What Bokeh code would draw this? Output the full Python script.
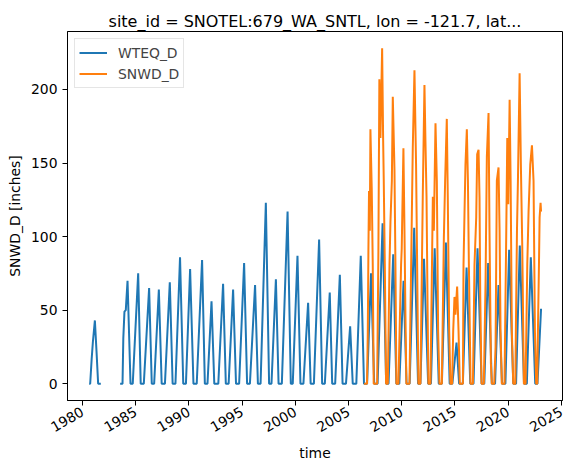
import math
import numpy as np
import pandas as pd
from bokeh.plotting import figure
from bokeh.models import ColumnDataSource, Range1d, FixedTicker, DatetimeTickFormatter
from bokeh.embed import file_html
from bokeh.resources import INLINE

TITLE = "site_id = SNOTEL:679_WA_SNTL, lon = -121.7, lat..."

# Snow water equivalent (WTEQ_D): season turning points, inches.  None = no record.
wteq_dates = [
    "1980-08-15", "1980-09-20", "1980-11-10", "1980-12-20", "1981-02-28", "1981-04-25", "1981-06-20", "1981-09-20",
    "1982-06-01",
    "1983-07-15", "1983-10-05", "1983-11-01", "1983-12-10", "1984-01-25", "1984-03-25", "1984-07-05",
    "1984-09-20", "1985-03-25", "1985-06-20",
    "1985-10-05", "1986-04-05", "1986-07-05",
    "1986-09-25", "1987-03-05", "1987-06-10",
    "1987-09-30", "1988-03-15", "1988-06-20",
    "1988-09-25", "1989-03-01", "1989-06-20",
    "1989-09-20", "1990-02-10", "1990-06-05",
    "1990-09-25", "1991-03-28", "1991-07-01",
    "1991-09-30", "1992-02-15", "1992-05-20",
    "1992-10-05", "1993-03-18", "1993-06-20",
    "1993-09-25", "1994-02-25", "1994-06-05",
    "1994-09-20", "1995-03-10", "1995-06-20",
    "1995-09-25", "1996-03-20", "1996-06-25",
    "1996-09-25", "1997-03-25", "1997-07-15",
    "1997-10-05", "1998-03-05", "1998-06-05",
    "1998-09-25", "1999-04-10", "1999-07-30",
    "1999-10-05", "2000-03-15", "2000-06-25",
    "2000-10-05", "2001-03-15", "2001-06-10",
    "2001-09-30", "2002-03-28", "2002-07-10",
    "2002-10-10", "2003-03-28", "2003-06-20",
    "2003-09-30", "2004-03-08", "2004-06-10",
    "2004-10-05", "2005-02-25", "2005-05-25",
    "2005-09-25", "2006-02-25", "2006-06-15",
    "2006-09-30", "2007-02-12", "2007-06-01",
    "2007-09-25", "2008-03-15", "2008-07-15",
    "2008-10-05", "2009-03-15", "2009-06-30",
    "2009-10-10", "2010-03-05", "2010-06-15",
    "2010-09-30", "2011-03-05", "2011-07-15",
    "2011-10-05", "2012-02-05", "2012-06-25",
    "2012-09-30", "2013-02-05", "2013-06-25",
    "2013-10-10", "2014-02-25", "2014-07-05",
    "2014-10-05", "2015-02-25", "2015-05-25",
    "2015-09-30", "2016-02-05", "2016-06-10",
    "2016-09-30", "2017-02-15", "2017-07-05",
    "2017-10-05", "2018-02-15", "2018-06-20",
    "2018-10-10", "2019-02-05", "2019-06-05",
    "2019-09-30", "2020-02-05", "2020-06-25",
    "2020-09-30", "2021-02-05", "2021-06-30",
    "2021-10-05", "2022-02-18", "2022-07-20",
    "2022-10-05", "2023-02-05",
]
wteq_values = [
    0, 0, 17, 28, 43, 22, 0, 0,
    None,
    0, 0, 31, 49, 50, 70, 0,
    0, 75, 0,
    0, 65, 0,
    0, 64, 0,
    0, 69, 0,
    0, 86, 0,
    0, 78, 0,
    0, 84, 0,
    0, 56, 0,
    0, 68, 0,
    0, 64, 0,
    0, 82, 0,
    0, 67, 0,
    0, 123, 0,
    0, 71, 0,
    0, 117, 0,
    0, 87, 0,
    0, 55, 0,
    0, 98, 0,
    0, 62, 0,
    0, 74, 0,
    0, 39, 0,
    0, 87, 0,
    0, 75, 0,
    0, 109, 0,
    0, 88, 0,
    0, 70, 0,
    0, 106, 0,
    0, 85, 0,
    0, 92, 0,
    0, 96, 0,
    0, 28, 0,
    0, 79, 0,
    0, 92, 0,
    0, 82, 0,
    0, 67, 0,
    0, 91, 0,
    0, 94, 0,
    0, 86, 0,
    0, 51,
]

# Snow depth (SNWD_D), inches.
snwd_dates = [
    "2006-06-20", "2006-09-27", "2006-10-23", "2006-11-14", "2006-12-05", "2007-01-01", "2007-01-22", "2007-03-08", "2007-04-12", "2007-05-15",
    "2007-09-10", "2007-10-23", "2007-11-25", "2008-01-01", "2008-02-28", "2008-04-02", "2008-04-24", "2008-05-30", "2008-07-12",
    "2008-09-10", "2008-11-07", "2008-12-10", "2009-01-27", "2009-02-28", "2009-04-27", "2009-05-30", "2009-07-02",
    "2009-09-10", "2009-12-10", "2010-01-01", "2010-02-28", "2010-04-05", "2010-05-08", "2010-06-10",
    "2010-09-24", "2010-12-14", "2011-01-15", "2011-03-14", "2011-05-08", "2011-06-14", "2011-07-27",
    "2011-10-05", "2011-12-24", "2012-02-20", "2012-03-25", "2012-05-01", "2012-06-03", "2012-07-05",
    "2012-09-13", "2012-12-04", "2013-01-08", "2013-03-05", "2013-04-20", "2013-06-03", "2013-07-20",
    "2013-10-09", "2013-12-17", "2014-01-30", "2014-03-28", "2014-05-01", "2014-06-18", "2014-07-31",
    "2014-09-27", "2014-11-03", "2014-12-17", "2015-01-19", "2015-03-18", "2015-05-05", "2015-06-18",
    "2015-10-01", "2015-10-23", "2015-11-25", "2015-12-29", "2016-02-14", "2016-03-22", "2016-04-24", "2016-06-21",
    "2016-09-10", "2016-11-03", "2017-01-01", "2017-02-03", "2017-03-22", "2017-04-24", "2017-05-20", "2017-07-02",
    "2017-09-20", "2017-11-18", "2018-01-01", "2018-02-28", "2018-04-02", "2018-05-20", "2018-06-21",
    "2018-09-10", "2018-10-27", "2018-12-10", "2019-02-06", "2019-03-14", "2019-04-16", "2019-05-30",
    "2019-08-30", "2019-10-27", "2019-12-03", "2020-01-05", "2020-02-22", "2020-03-27", "2020-05-08", "2020-06-25",
    "2020-09-03", "2020-10-31", "2020-12-03", "2021-01-30", "2021-03-14", "2021-05-01", "2021-06-25",
    "2021-08-22", "2021-10-20", "2021-12-03", "2022-01-30", "2022-03-29", "2022-05-23", "2022-07-09", "2022-08-22",
    "2022-09-27", "2022-10-20", "2022-11-25", "2022-12-17", "2023-01-19", "2023-02-05",
]
snwd_values = [
    0, 0, 34, 90, 131, 104, 173, 133, 81, 0,
    0, 90, 207, 167, 228, 167, 138, 81, 0,
    0, 81, 110, 138, 195, 145, 81, 0,
    0, 81, 92, 160, 104, 47, 0,
    0, 115, 160, 213, 149, 81, 0,
    0, 127, 203, 165, 127, 59, 0,
    0, 127, 104, 177, 138, 36, 0,
    0, 99, 138, 180, 127, 36, 0,
    0, 36, 59, 47, 66, 36, 0,
    0, 81, 115, 149, 173, 138, 81, 0,
    0, 81, 113, 156, 159, 127, 59, 0,
    0, 70, 154, 184, 104, 14, 0,
    0, 25, 138, 147, 104, 36, 0,
    0, 99, 167, 122, 193, 138, 36, 0,
    0, 104, 138, 211, 149, 93, 0,
    0, 81, 117, 149, 162, 138, 36, 0,
    0, 36, 81, 113, 123, 117,
]

x_tick_years = [1980, 1985, 1990, 1995, 2000, 2005, 2010, 2015, 2020, 2025]
y_ticks = [0, 50, 100, 150, 200]

FONT = "DejaVu Sans"
BLUE = "#1f77b4"
ORANGE = "#ff7f0e"


def as_float(vals):
    return np.array([np.nan if v is None else v for v in vals], dtype=float)


wteq = ColumnDataSource(dict(time=pd.to_datetime(wteq_dates), value=as_float(wteq_values)))
snwd = ColumnDataSource(dict(time=pd.to_datetime(snwd_dates), value=as_float(snwd_values)))

p = figure(
    width=572, height=469,
    x_axis_type="datetime",
    output_backend="svg", toolbar_location=None,
    min_border_left=67, min_border_right=10, min_border_top=31, min_border_bottom=69,
    x_range=Range1d(pd.Timestamp("1978-08-03"), pd.Timestamp("2025-02-10")),
    y_range=Range1d(-11.4, 239.4),
)

p.line("time", "value", source=wteq, line_color=BLUE, line_width=2, legend_label="WTEQ_D")
p.line("time", "value", source=snwd, line_color=ORANGE, line_width=2, legend_label="SNWD_D")

p.title.text = TITLE
p.title.align = "center"
p.title.text_font = FONT
p.title.text_font_size = "16px"
p.title.text_font_style = "normal"
p.title.text_color = "black"
p.title.standoff = 2

p.grid.visible = False
p.outline_line_color = "black"
p.outline_line_width = 1
p.background_fill_color = "white"
p.border_fill_color = "white"

p.xaxis.ticker = FixedTicker(ticks=[pd.Timestamp(f"{y}-01-01").value / 1e6 for y in x_tick_years])
p.xaxis.formatter = DatetimeTickFormatter(years="%Y", months="%Y", days="%Y", hours="%Y")
p.xaxis.major_label_orientation = math.pi / 6
p.xaxis.axis_label = "time"
p.yaxis.ticker = FixedTicker(ticks=y_ticks)
p.yaxis.axis_label = "SNWD_D [inches]"

for ax in (p.xaxis, p.yaxis):
    ax.axis_line_color = "black"
    ax.major_tick_line_color = "black"
    ax.major_tick_out = 5
    ax.major_tick_in = 0
    ax.minor_tick_line_color = None
    ax.major_label_text_font = FONT
    ax.major_label_text_font_size = "13.9px"
    ax.major_label_text_color = "black"
    ax.axis_label_text_font = FONT
    ax.axis_label_text_font_size = "13.9px"
    ax.axis_label_text_font_style = "normal"
    ax.axis_label_text_color = "black"

leg = p.legend[0]
leg.location = "top_left"
leg.margin = 7
leg.padding = 4
leg.spacing = 2
leg.glyph_width = 28
leg.glyph_height = 19
leg.label_height = 19
leg.label_standoff = 11
leg.label_text_font = FONT
leg.label_text_font_size = "13.9px"
leg.border_line_color = "#cccccc"
leg.background_fill_alpha = 0.8

open("out.html", "w").write(file_html(p, INLINE))
